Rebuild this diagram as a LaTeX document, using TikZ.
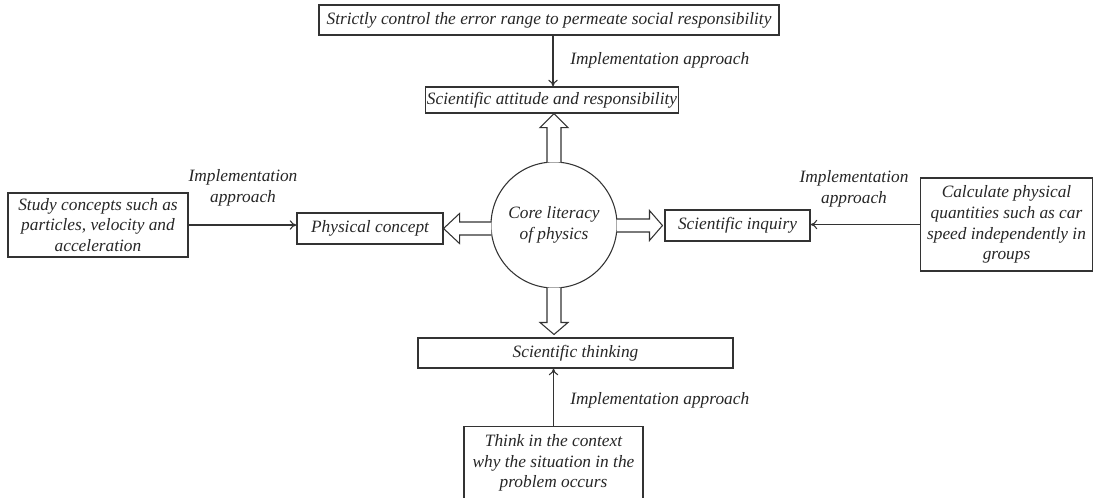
\documentclass[tikz,border=0pt]{standalone}
\usepackage{fontspec}
\setmainfont{Liberation Serif}
\usetikzlibrary{calc,arrows.meta}
\begin{document}
\begin{tikzpicture}[x=0.75pt,y=-0.75pt,
  every node/.style={font=\itshape\fontsize{13}{15.5}\selectfont, text=black!85},
  box/.style={draw=black!80, line width=0.8pt, inner sep=1pt, align=center},
  lbl/.style={align=center, inner sep=0pt},
  thin/.style={draw=black!80, line width=0.8pt, -{To[length=5pt,width=7pt]}},
  blk/.style={draw=black!80, line width=0.8pt, fill=white, line join=miter}]
\useasboundingbox (0,0) rectangle (1094,497);
% nodes
\node[box, minimum width=345pt, minimum height=22.5pt] (top) at (549,20) {Strictly control the error range to permeate social responsibility};
\node[box, minimum width=187.5pt, minimum height=19.5pt] (att) at (552,100) {Scientific attitude and responsibility};
\node[draw=black!80, line width=0.8pt, circle, minimum size=94.5pt, align=center, inner sep=0pt] (core) at (554,225) {Core literacy\\of physics};
\node[box, minimum width=109.5pt, minimum height=23.25pt] (phys) at (370,228.5) {Physical concept};
\node[box, minimum width=108.75pt, minimum height=23.25pt] (inq) at (737.5,225.5) {Scientific inquiry};
\node[box, minimum width=135pt, minimum height=48pt] (lsrc) at (98,225) {Study concepts such as\\particles, velocity and\\acceleration};
\node[box, minimum width=129pt, minimum height=69.75pt] (rsrc) at (1006.5,224.5) {Calculate physical\\quantities such as car\\speed independently in\\groups};
\node[box, minimum width=236.25pt, minimum height=22.5pt] (think) at (575.5,353) {Scientific thinking};
\node[box, minimum width=134.25pt, minimum height=61.5pt, anchor=north] (bsrc) at (553.5,426) {};
\node[lbl] (btext) at (553.5,463) {Think in the context\\why the situation in the\\problem occurs};
% labels
\node[lbl, anchor=west] (l1) at (570,60) {Implementation approach};
\node[lbl] (l2) at (243,188) {Implementation\\approach};
\node[lbl] (l3) at (854,189) {Implementation\\approach};
\node[lbl, anchor=west] (l4) at (570,400) {Implementation approach};
% thin arrows
\draw[thin] (top.south -| att.south) ++(1,0) coordinate (ta) -- (ta |- att.north);
\draw[thin] (lsrc.east) -- (lsrc.east -| phys.west);
\draw[thin] (rsrc.west) -- (rsrc.west -| inq.east);
\draw[thin] (bsrc.north) -- (bsrc.north |- think.south);
% block arrows
\coordinate (ua) at (core.north |- att.south);
\coordinate (da) at (core.south |- think.north);
\draw[blk] ($(core.north)+(-7,1)$) -- ($(ua)+(-7,14)$) -- ($(ua)+(-14,14)$) -- (ua)
  -- ($(ua)+(14,14)$) -- ($(ua)+(7,14)$) -- ($(core.north)+(7,1)$);
\draw[blk] ($(core.south)+(-7,-1)$) -- ($(da)+(-7,-15)$) -- ($(da)+(-14,-15)$) -- ($(da)+(0,-3)$)
  -- ($(da)+(14,-15)$) -- ($(da)+(7,-15)$) -- ($(core.south)+(7,-1)$);
\draw[blk] ($(core.west |- phys.east)+(1,-6.5)$) -- ($(phys.east)+(16,-6.5)$) -- ($(phys.east)+(16,-15)$) -- (phys.east)
  -- ($(phys.east)+(16,15)$) -- ($(phys.east)+(16,6.5)$) -- ($(core.west |- phys.east)+(1,6.5)$);
\draw[blk] ($(core.east |- inq.west)+(-1,-6.5)$) -- ($(inq.west)+(-15,-6.5)$) -- ($(inq.west)+(-15,-15)$) -- ($(inq.west)+(-2,0)$)
  -- ($(inq.west)+(-15,15)$) -- ($(inq.west)+(-15,6.5)$) -- ($(core.east |- inq.west)+(-1,6.5)$);
\end{tikzpicture}
\end{document}
